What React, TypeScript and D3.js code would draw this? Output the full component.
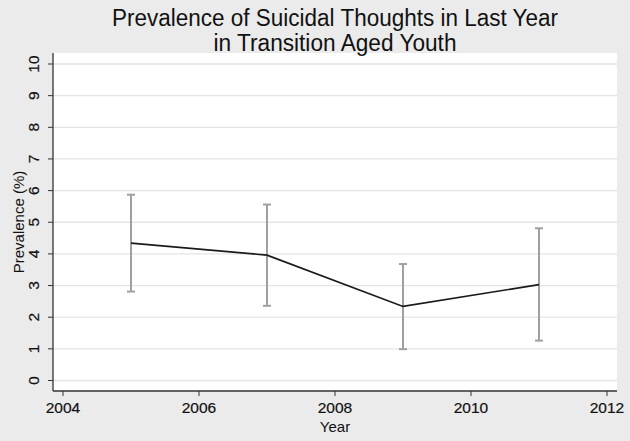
import React from "react";
import * as d3 from "d3";

const years = [2005, 2007, 2009, 2011];
const prevalence = [4.34, 3.96, 2.34, 3.03];
const lowerCI = [2.81, 2.36, 0.99, 1.26];
const upperCI = [5.87, 5.56, 3.68, 4.81];
const xTicks = [2004, 2006, 2008, 2010, 2012];
const yTicks = [0, 1, 2, 3, 4, 5, 6, 7, 8, 9, 10];
const titleLines = ["Prevalence of Suicidal Thoughts in Last Year", "in Transition Aged Youth"];

const W = 630, H = 441;
const plot = { left: 53, right: 617, top: 53, bottom: 391 };

export default function App() {
  const x = d3.scaleLinear().domain([2004, 2012]).range([63, 607]);
  const y = d3.scaleLinear().domain([0, 10]).range([380.5, 64]);
  const line = d3.line<number>().x((_, i) => x(years[i])).y((d) => y(d));
  const font = "'Liberation Sans', Arial, Helvetica, sans-serif";
  const titleW = [446, 243];
  return (
    <svg width={W} height={H} style={{ position: "absolute", left: 0, top: 0 }} fontFamily={font}>
      <rect x={0} y={0} width={W} height={H} fill="#ebebeb" />
      <rect x={plot.left} y={plot.top} width={plot.right - plot.left} height={plot.bottom - plot.top} fill="#ffffff" />
      {yTicks.map((t) => (
        <line key={"g" + t} x1={plot.left} x2={plot.right} y1={y(t)} y2={y(t)} stroke="#e4e4e4" strokeWidth={1.3} />
      ))}
      <line x1={plot.left} x2={plot.left} y1={plot.top} y2={plot.bottom} stroke="#333" strokeWidth={1.3} />
      <line x1={plot.left} x2={plot.right} y1={plot.bottom} y2={plot.bottom} stroke="#333" strokeWidth={1.3} />
      {yTicks.map((t) => (
        <g key={"y" + t}>
          <line x1={plot.left - 5} x2={plot.left} y1={y(t)} y2={y(t)} stroke="#333" strokeWidth={1} />
          <text transform={`translate(38.5,${y(t)}) rotate(-90)`} textAnchor="middle" fontSize={15.5} fill="#111" stroke="#111" strokeWidth={0.2}>{t}</text>
        </g>
      ))}
      {xTicks.map((t) => (
        <g key={"x" + t}>
          <line x1={x(t)} x2={x(t)} y1={plot.bottom} y2={plot.bottom + 5} stroke="#333" strokeWidth={1} />
          <text x={x(t)} y={413} textAnchor="middle" fontSize={15.5} fill="#111" stroke="#111" strokeWidth={0.2}>{t}</text>
        </g>
      ))}
      <text x={(plot.left + plot.right) / 2} y={432} textAnchor="middle" fontSize={15} fill="#111">Year</text>
      <text transform={`translate(24,${(plot.top + plot.bottom) / 2}) rotate(-90)`} textAnchor="middle" fontSize={15} fill="#111">Prevalence (%)</text>
      {titleLines.map((s, i) => (
        <text key={s} x={335} y={26 + i * 25} textAnchor="middle" fontSize={23} fill="#111"
          textLength={titleW[i]} lengthAdjust="spacingAndGlyphs">{s}</text>
      ))}
      {years.map((yr, i) => (
        <g key={"e" + yr} stroke="#a0a0a0" strokeWidth={2}>
          <line x1={x(yr)} x2={x(yr)} y1={y(lowerCI[i])} y2={y(upperCI[i])} />
          <line x1={x(yr) - 4} x2={x(yr) + 4} y1={y(lowerCI[i])} y2={y(lowerCI[i])} />
          <line x1={x(yr) - 4} x2={x(yr) + 4} y1={y(upperCI[i])} y2={y(upperCI[i])} />
        </g>
      ))}
      <path d={line(prevalence) || ""} fill="none" stroke="#1a1a1a" strokeWidth={1.7} />
    </svg>
  );
}
